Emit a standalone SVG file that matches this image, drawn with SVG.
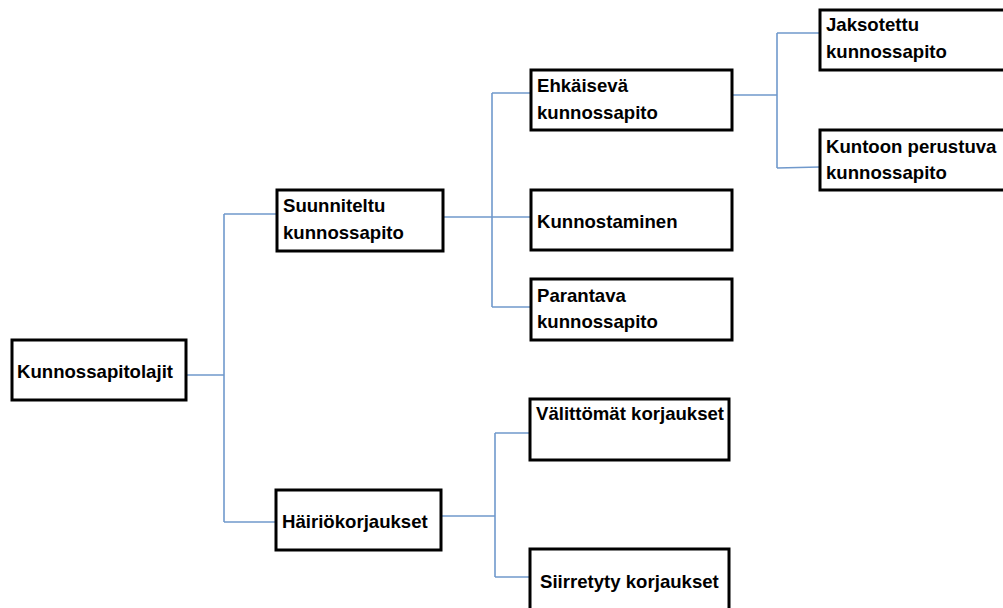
<svg xmlns="http://www.w3.org/2000/svg" width="1003" height="608" viewBox="0 0 1003 608">
<style>
.box{fill:#fff;stroke:#000;stroke-width:3}
.t{font-family:"Liberation Sans",Arial,sans-serif;font-weight:bold;font-size:18.6px;fill:#000}
.c{fill:none;stroke:#7099cc;stroke-width:1.6}
</style>
<rect width="1003" height="608" fill="#fff"/>
<g id="connectors">
<path class="c" d="M186 375H224M224 214V522M224 214H277M224 522H276"/>
<path class="c" d="M443 217H530M492 93V307M492 93H531M492 307H531"/>
<path class="c" d="M441 516H495M495 433V577M495 433H530M495 577H530"/>
<path class="c" d="M732 95H777M777 33V168M777 33H820M777 168L820 167"/>
</g>
<g id="n-kunnossapitolajit"><rect class="box" x="12" y="340" width="174" height="60"/><text class="t" x="17" y="378">Kunnossapitolajit</text></g>
<g id="n-suunniteltu"><rect class="box" x="277" y="190" width="166" height="61"/><text class="t" x="283" y="212">Suunniteltu</text><text class="t" x="283" y="239">kunnossapito</text></g>
<g id="n-hairio"><rect class="box" x="276" y="490" width="165" height="60"/><text class="t" x="282" y="528">Häiriökorjaukset</text></g>
<g id="n-ehkaiseva"><rect class="box" x="531" y="70" width="201" height="60"/><text class="t" x="537" y="92">Ehkäisevä</text><text class="t" x="537" y="119">kunnossapito</text></g>
<g id="n-kunnostaminen"><rect class="box" x="531" y="190" width="201" height="60"/><text class="t" x="537" y="228">Kunnostaminen</text></g>
<g id="n-parantava"><rect class="box" x="531" y="279" width="201" height="61"/><text class="t" x="537" y="302">Parantava</text><text class="t" x="537" y="328">kunnossapito</text></g>
<g id="n-valittomat"><rect class="box" x="530" y="399" width="199" height="61"/><text class="t" x="536" y="420">Välittömät korjaukset</text></g>
<g id="n-siirretyty"><rect class="box" x="530" y="549" width="199" height="70"/><text class="t" x="540" y="588">Siirretyty korjaukset</text></g>
<g id="n-jaksotettu"><rect class="box" x="820" y="10" width="200" height="60"/><text class="t" x="826" y="31">Jaksotettu</text><text class="t" x="826" y="58">kunnossapito</text></g>
<g id="n-kuntoon"><rect class="box" x="820" y="130" width="200" height="60"/><text class="t" x="826" y="153">Kuntoon perustuva</text><text class="t" x="826" y="179">kunnossapito</text></g>
</svg>
